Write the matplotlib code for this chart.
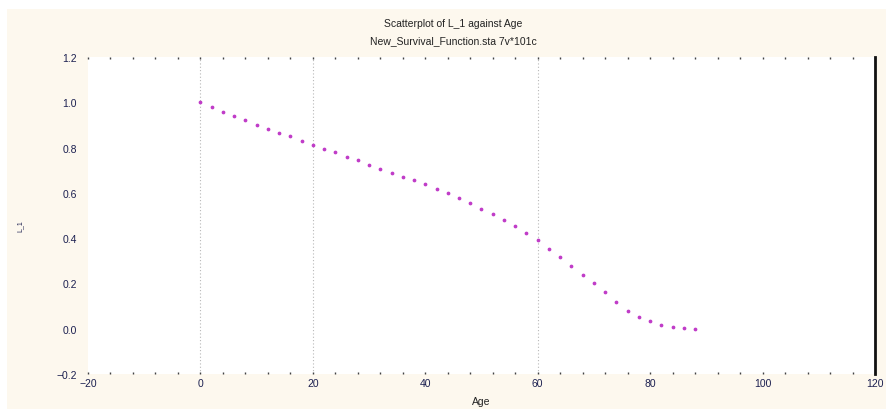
import numpy as np
import matplotlib
matplotlib.use("Agg")
import matplotlib.pyplot as plt
from matplotlib.patches import Rectangle

plt.rcParams['font.family'] = ['Liberation Sans', 'DejaVu Sans']

# Survival function L_1 by age
age = [0, 2, 4, 6, 8, 10, 12, 14, 16, 18, 20, 22, 24, 26, 28, 30, 32, 34, 36, 38,
       40, 42, 44, 46, 48, 50, 52, 54, 56, 58, 60, 62, 64, 66, 68, 70, 72, 74, 76,
       78, 80, 82, 84, 86, 88]
l1 = [1.000, 0.980, 0.958, 0.940, 0.920, 0.900, 0.884, 0.866, 0.849, 0.830,
      0.812, 0.795, 0.779, 0.760, 0.743, 0.725, 0.707, 0.689, 0.672, 0.655,
      0.637, 0.617, 0.600, 0.578, 0.553, 0.528, 0.505, 0.480, 0.452, 0.423,
      0.392, 0.353, 0.315, 0.275, 0.237, 0.200, 0.163, 0.120, 0.080, 0.050,
      0.032, 0.018, 0.007, 0.002, 0.000]

x_ticks = [-20, 0, 20, 40, 60, 80, 100, 120]
y_ticks = [-0.2, 0.0, 0.2, 0.4, 0.6, 0.8, 1.0, 1.2]
grid_x = [0, 20, 60]

W, H = 887, 410
fig = plt.figure(figsize=(W / 100, H / 100), dpi=100)
fig.patch.set_facecolor('white')
cream = '#fdf8ee'
fig.patches.append(Rectangle((7 / W, 0), 1, (H - 10) / H, transform=fig.transFigure,
                             facecolor=cream, edgecolor='none', zorder=-10))

ax = fig.add_axes([88 / W, (H - 375) / H, (875 - 88) / W, (375 - 58) / H])
ax.set_facecolor('white')
ax.set_xlim(-20, 120)
ax.set_ylim(-0.2, 1.2)

for gx in grid_x:
    ax.axvline(gx, color='#b8b8b8', lw=0.8, ls=(0, (1, 2)), zorder=1)

ax.plot(age, l1, ls='none', marker='o', ms=1.7, mfc='#c03cc8', mec='#c03cc8',
        zorder=3)

for side in ['left', 'top', 'bottom']:
    ax.spines[side].set_visible(False)
ax.spines['right'].set_linewidth(2)
ax.spines['right'].set_color('#111111')

ax.set_xticks(x_ticks)
ax.set_yticks(y_ticks)
ax.set_xticklabels([f'{v:d}'.replace('-', '\u2212') for v in x_ticks])
ax.set_yticklabels([f'{v:.1f}'.replace('-', '\u2212') for v in y_ticks])
ax.set_xticks(np.arange(-16, 120, 4), minor=True)
ax.tick_params(axis='x', which='both', direction='in', top=True, bottom=True,
               length=1.2, width=1.0, color='#444444', labelsize=7.5,
               labelcolor='#1c2050', pad=3)
ax.tick_params(axis='y', which='both', length=0, labelsize=7.5,
               labelcolor='#1c2050', pad=8)
ax.tick_params(axis='y', right=False, labelright=False)

fig.text(453 / W, 1 - 24 / H, 'Scatterplot of L_1 against Age', ha='center',
         va='center', fontsize=7.5, color='#222222')
fig.text(453 / W, 1 - 41 / H, 'New_Survival_Function.sta 7v*101c', ha='center',
         va='center', fontsize=7.5, color='#222222')
fig.text(481 / W, 1 - 402 / H, 'Age', ha='center', va='center', fontsize=7.5,
         color='#222222')
fig.text(20 / W, 1 - 226 / H, 'L_1', ha='center', va='center', fontsize=5,
         rotation=90, color='#1c2050')

fig.savefig('out.png', dpi=100, facecolor=fig.get_facecolor())
